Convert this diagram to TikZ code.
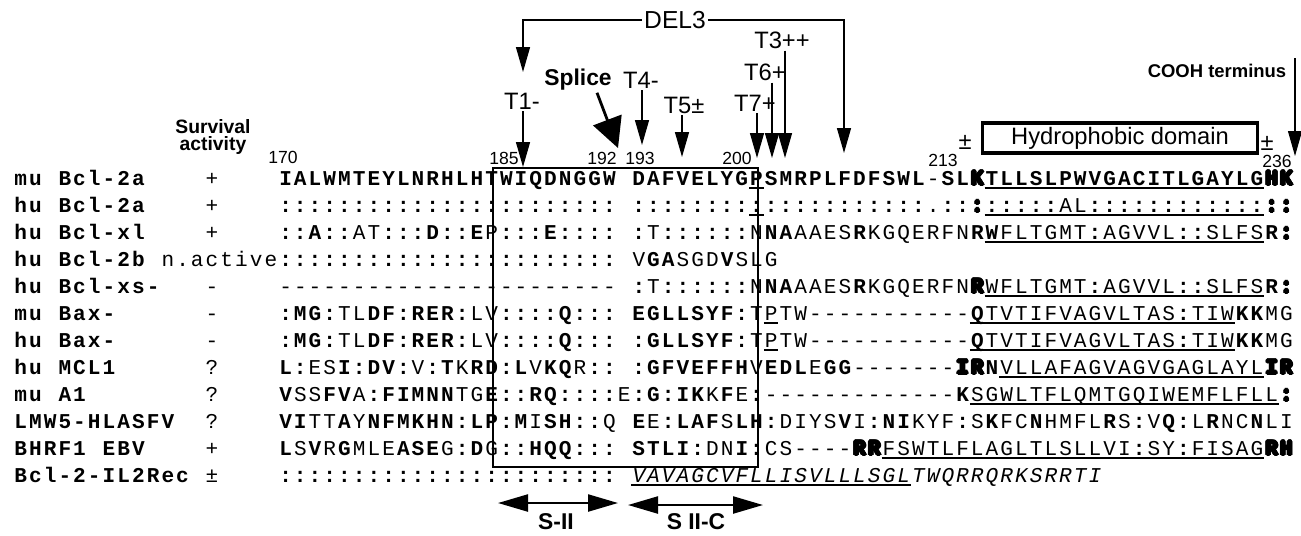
\documentclass[tikz,border=0pt]{standalone}
\usepackage{fontspec}
\setmainfont{Liberation Sans}
\setmonofont{Liberation Mono}
\usetikzlibrary{arrows.meta}

% one cell of the alignment grid
\newlength\cw
\setlength\cw{0.2944cm}

\makeatletter
\def\qend{\qend}%
\def\rp#1#2{\ifnum#1>\z@#2\expandafter\rp\expandafter{\the\numexpr#1-1\relax}{#2}\fi}%
\def\qloop#1{\ifx#1\qend\else\qcell#1\expandafter\qloop\fi}%
\def\qblank{\hspace*{\cw}}%
\def\qcellB#1{\if*#1\qblank\else\makebox[\cw]{\bfseries#1}\fi}%
\def\qcellR#1{\if*#1\qblank\else\makebox[\cw]{\mdseries#1}\fi}%
\def\qcellI#1{\if*#1\qblank\else\makebox[\cw]{\mdseries\itshape#1}\fi}%
% upper case = bold residue, lower case = plain residue
\def\qcellS#1{\if*#1\qblank\else\ifcat a#1\ifnum\lccode`#1=`#1 \makebox[\cw]{\mdseries\uppercase{#1}}\else\makebox[\cw]{\bfseries#1}\fi\else\if:#1\makebox[\cw]{\bfseries#1}\else\makebox[\cw]{\mdseries#1}\fi\fi\fi}%
% hollow (outlined) residue
\def\qoff#1#2{\rlap{\kern#1\raisebox{#2}{\usebox\z@}}}%
\def\qring#1#2{\qoff{-#1}{0pt}\qoff{#1}{0pt}\qoff{0pt}{#1}\qoff{0pt}{-#1}\qoff{-#2}{-#2}\qoff{#2}{#2}\qoff{-#2}{#2}\qoff{#2}{-#2}}%
\def\qcellO#1{\makebox[\cw]{\bfseries\sbox\z@{#1}\qring{.75pt}{.53pt}\color{white}\qring{.35pt}{.25pt}\usebox\z@}}%
\newcommand\Bq[1]{\edef\qtmp{#1}\let\qcell\qcellB\expandafter\qloop\qtmp\qend}%
\newcommand\Rq[1]{\edef\qtmp{#1}\let\qcell\qcellR\expandafter\qloop\qtmp\qend}%
\newcommand\Iq[1]{\edef\qtmp{#1}\let\qcell\qcellI\expandafter\qloop\qtmp\qend}%
\newcommand\Sq[1]{\edef\qtmp{#1}\let\qcell\qcellS\expandafter\qloop\qtmp\qend}%
\newcommand\Oq[1]{\edef\qtmp{#1}\let\qcell\qcellO\expandafter\qloop\qtmp\qend}%
\makeatother

\tikzset{
  seqrow/.style={anchor=base west, inner sep=0pt, font=\ttfamily\fontsize{12}{12}\selectfont},
  lab/.style={font=\fontsize{13.5}{14}\selectfont, inner sep=1pt},
  blab/.style={font=\bfseries\fontsize{13}{14}\selectfont, inner sep=1pt},
  num/.style={font=\fontsize{10}{10}\selectfont, inner sep=0pt},
  tarr/.style={line width=0.8pt, -{Triangle[length=0.5cm,width=0.28cm]}},
  dblarr/.style={line width=1.3pt, {Triangle[length=0.6cm,width=0.34cm]}-{Triangle[length=0.6cm,width=0.34cm]}},
  uline/.style={line width=0.6pt},
}

\begin{document}
\begin{tikzpicture}[x=0.02cm, y=-0.02cm]
\useasboundingbox (0,0) rectangle (1301,535);

% header
\node[font=\bfseries\fontsize{11}{10}\selectfont, align=center] (surv) at (213,137) {Survival\\activity};
\node[num] (n170) at (283,157) {170};
\node[num] (n185) at (504,158) {185};
\node[num] (n192) at (602,158) {192};
\node[num] (n193) at (640,158) {193};
\node[num] (n200) at (737,158) {200};
\node[num] (n213) at (943,160) {213};
\node[num] (n236) at (1277,161) {236};

% alignment rows
\node[seqrow] (r0) at (13,185) {\Bq{mu*Bcl-2a****}\Rq{+****}\Sq{IALWMTEYLNRHLHTWIQDNGGW*DAFVELYGPSMRPLFDFSWL-SL}\Oq{K}\Sq{TLLSLPWVGACITLGAYLG}\Oq{HK}};
\node[seqrow] (r1) at (13,212) {\Bq{hu*Bcl-2a****}\Rq{+****}\Sq{\rp{23}{:}*\rp{20}{:}.::}\Oq{:}\Sq{\rp{5}{:}al\rp{12}{:}}\Oq{::}};
\node[seqrow] (r2) at (13,239) {\Bq{hu*Bcl-xl****}\Rq{+****}\Sq{::A::at:::D::Ep:::E::::*:t\rp{6}{:}nNAaaesRkgqerfnRWfltgmt:agvvl::slfsR}\Oq{:}};
\node[seqrow] (r3) at (13,266) {\Bq{hu*Bcl-2b*}\Rq{n.active}\Sq{\rp{23}{:}*vGAsgdVslg}};
\node[seqrow] (r4) at (13,293) {\Bq{hu*Bcl-xs-***}\Rq{-****}\Sq{\rp{23}{-}*:t\rp{6}{:}nNAaaesRkgqerfn}\Oq{R}\Sq{wfltgmt:agvvl::slfsR}\Oq{:}};
\node[seqrow] (r5) at (13,320) {\Bq{mu*Bax-******}\Rq{-****}\Sq{:MG:tlDF:RER:lv::::Q:::*EGLLSYF:tptw\rp{11}{-}Qtvtifvagvltas:tiwKKmg}};
\node[seqrow] (r6) at (13,347) {\Bq{hu*Bax-******}\Rq{-****}\Sq{:MG:tlDF:RER:lv::::Q:::*:GLLSYF:tptw\rp{11}{-}Qtvtifvagvltas:tiwKKmg}};
\node[seqrow] (r7) at (13,374) {\Bq{hu*MCL1******}\Rq{?****}\Sq{L:esI:DV:v:TkRD:LvKQr::*:GFVEFFHvEDLeGG\rp{7}{-}}\Oq{IR}\Sq{Nvllafagvagvgaglayl}\Oq{IR}};
\node[seqrow] (r8) at (13,401) {\Bq{mu*A1********}\Rq{?****}\Sq{VssFVa:FIMNNtgE::RQ::::e:G:IKkFe:\rp{13}{-}Ksgwltflqmtgqiwemflfll}\Oq{:}};
\node[seqrow] (r9) at (13,428) {\Bq{LMW5-HLASFV**}\Rq{?****}\Sq{VIttAyNFMKHN:LP:MiSH::q*Ee:LAFsLH:diysVi:NIkyf:sKfcNhmflRs:vQ:lRncNli}};
\node[seqrow] (r10) at (13,455) {\Bq{BHRF1*EBV****}\Rq{+****}\Sq{LsVrGmleASEg:Dg::HQQ:::*STLI:dnI:cs----}\Oq{RR}\Sq{fswtlflagltlsllvi:sy:fisag}\Oq{RH}};
\node[seqrow] (r11) at (13,482) {\Bq{Bcl-2-IL2Rec*}\Rq{±****}\Sq{\rp{23}{:}*}\Iq{VAVAGCVFLLISVLLLSGLTWQRRQRKSRRTI}};

% underlined stretches (row/first/last residue)
\foreach \r/\a/\b in {0/32/32, 0/48/66, 1/32/32, 1/48/66, 2/48/66, 4/48/66, 5/33/33, 5/47/64, 6/33/33, 6/47/64, 7/49/66, 8/47/67, 10/41/66, 11/24/42}
  \draw[uline] ({278+14.72*\a}, {188+27*\r}) -- ({278+14.72*(\b+1)}, {188+27*\r});

% conserved block
\draw[line width=0.9pt] (493,168) rectangle (758,467);

% DEL3 bracket
\node[lab, font=\fontsize{14}{14}\selectfont] (del) at (675,20) {DEL3};
\coordinate (dl) at (523,20);
\coordinate (dle) at (523,72);
\coordinate (dr) at (844,20);
\coordinate (dre) at (844,153);
\draw[tarr] (del.west) -- (dl) -- (dle);
\draw[tarr] (del.east) -- (dr) -- (dre);

% truncation points
\node[lab] (t1) at (522,101) {T1-};
\node[lab] (t4) at (641,80) {T4-};
\node[lab] (t5) at (684,105) {T5±};
\node[lab] (t7) at (755,103) {T7+};
\node[lab] (t6) at (765,72) {T6+};
\node[lab] (t3) at (782,40) {T3++};
\coordinate (t1e) at (523,167);
\coordinate (t4e) at (642,145);
\coordinate (t5e) at (682,157);
\coordinate (t7e) at (757,158);
\coordinate (t6e) at (772,158);
\coordinate (t3e) at (785,158);
\foreach \t in {t1,t4,t5,t7,t6,t3}
  \draw[tarr] (\t.south -| \t e) -- (\t e);

% splice site
\node[blab] (spl) at (578,80) {Splice};
\coordinate (sple) at (618,148);
\draw[line width=1.6pt, -{Triangle[length=0.6cm,width=0.6cm]}] ([xshift=0.38cm]spl.south) -- (sple);

% C-terminal tail
\node[draw, line width=1.8pt, minimum width=5.5cm, minimum height=0.6cm, inner sep=0pt, font=\fontsize{13.5}{14}\selectfont] (hyd) at (1120,138) {Hydrophobic domain};
\node[lab] (pm1) at (965,142) {±};
\node[lab] (pm2) at (1267,143) {±};
\node[font=\bfseries\fontsize{10.5}{11}\selectfont] (cooh) at (1217,71) {COOH terminus};
\coordinate (ct) at (1295,58);
\coordinate (cb) at (1295,156);
\draw[tarr, line width=0.6pt] (ct) -- (cb);

% segments under the block
\coordinate (s1a) at (498,503);
\coordinate (s1b) at (618,503);
\coordinate (s2a) at (628,505);
\coordinate (s2b) at (763,505);
\draw[dblarr] (s1a) -- (s1b);
\draw[dblarr] (s2a) -- (s2b);
\node[blab] (s1) at (556,522) {S-II};
\node[blab] (s2) at (696,522) {S II-C};
\end{tikzpicture}
\end{document}
